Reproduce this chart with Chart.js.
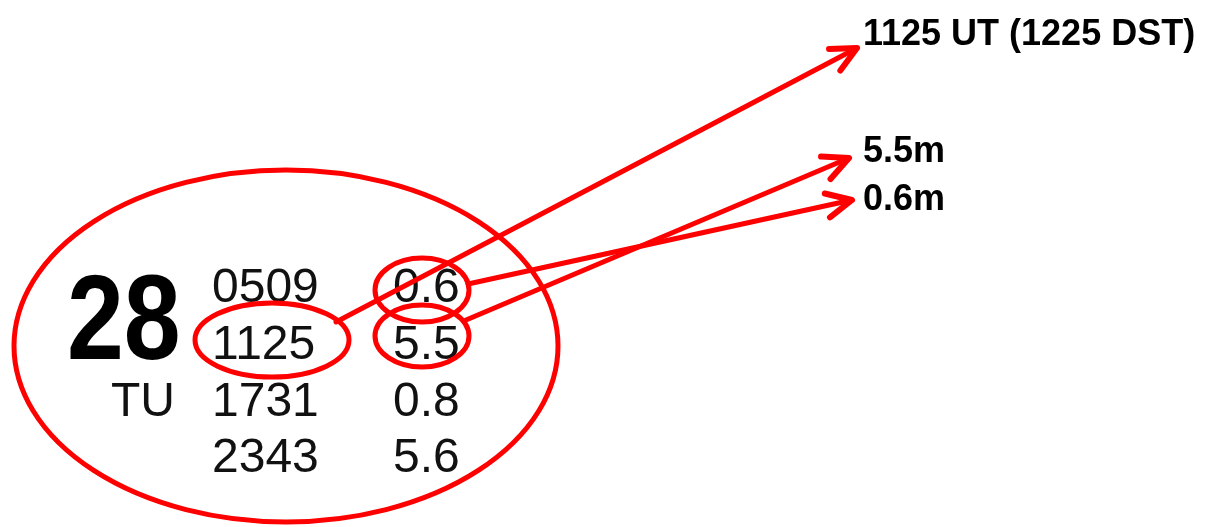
<!DOCTYPE html>
<html>
<head>
<meta charset="utf-8">
<script src="https://cdn.jsdelivr.net/npm/chart.js@4/dist/chart.umd.min.js"></script>
<style>
  html, body { margin: 0; padding: 0; background: #fff; }
  #wrap { width: 1220px; height: 527px; }
</style>
</head>
<body>
<div id="wrap"><canvas id="myChart" width="1220" height="527"></canvas></div>
<script>
// tide table entry for one day
const day = '28';
const weekday = 'TU';
const times = ['0509', '1125', '1731', '2343'];
const heights = [0.6, 5.5, 0.8, 5.6];
const dstTime = '1225';

// which rows get called out
const timeRow = 1;
const heightRows = [1, 0];

const labels = [
  times[timeRow] + ' UT (' + dstTime + ' DST)',
  heights[heightRows[0]].toFixed(1) + 'm',
  heights[heightRows[1]].toFixed(1) + 'm',
];

// layout, in page units (x 0..1220, y 0..527 from the top)
const firstRow = 302;
const rowGap = 56.8;
const timeX = 212;
const heightX = 393;
const red = '#ff0000';

function rowY(i) {
  return firstRow + i * rowGap;
}

// arrows: start at the small ellipse, end next to the label
const arrows = [
  { from: { x: 336, y: 322 }, to: { x: 857, y: 48 } },
  { from: { x: 466, y: 320 }, to: { x: 849, y: 158 } },
  { from: { x: 468, y: 284 }, to: { x: 852, y: 200 } },
];

const labelPos = [
  { x: 863, y: 45 },
  { x: 863, y: 162 },
  { x: 863, y: 210 },
];

const tidePlugin = {
  id: 'tide',
  beforeDatasetsDraw(chart) {
    const ctx = chart.ctx;
    const sx = chart.scales.x;
    const sy = chart.scales.y;
    ctx.save();
    ctx.fillStyle = '#111';
    ctx.textBaseline = 'alphabetic';

    // table text, placed on the scatter points
    ctx.font = '48px "Liberation Sans", Arial, sans-serif';
    chart.getDatasetMeta(0).data.forEach((p, i) => {
      ctx.fillText(times[i], p.x, p.y);
    });
    chart.getDatasetMeta(1).data.forEach((p, i) => {
      ctx.fillText(heights[i].toFixed(1), p.x, p.y);
    });

    // weekday, right aligned on row 2
    ctx.textAlign = 'right';
    ctx.fillText(weekday, sx.getPixelForValue(175), sy.getPixelForValue(rowY(2)));

    // big condensed day number
    ctx.textAlign = 'left';
    ctx.fillStyle = '#000';
    ctx.font = 'bold 121px "Liberation Sans", Arial, sans-serif';
    ctx.save();
    ctx.translate(sx.getPixelForValue(67), sy.getPixelForValue(rowY(1)));
    ctx.scale(0.845, 1);
    ctx.fillText(day, 0, 0);
    ctx.restore();

    // callout labels
    ctx.font = 'bold 36px "Liberation Sans", Arial, sans-serif';
    labels.forEach((t, i) => {
      ctx.fillText(t, sx.getPixelForValue(labelPos[i].x), sy.getPixelForValue(labelPos[i].y));
    });
    ctx.restore();
  },
  afterDatasetsDraw(chart) {
    const ctx = chart.ctx;
    const sx = chart.scales.x;
    const sy = chart.scales.y;
    ctx.save();
    ctx.strokeStyle = red;
    ctx.lineWidth = 5;
    ctx.lineCap = 'round';
    ctx.lineJoin = 'round';

    function ellipse(cx, cy, rx, ry) {
      const px = sx.getPixelForValue(cx);
      const py = sy.getPixelForValue(cy);
      const w = Math.abs(sx.getPixelForValue(cx + rx) - px);
      const h = Math.abs(sy.getPixelForValue(cy + ry) - py);
      ctx.beginPath();
      ctx.ellipse(px, py, w, h, 0, 0, Math.PI * 2);
      ctx.stroke();
    }

    // whole day
    ellipse(286, 346, 272, 176);
    // time and the two heights
    ellipse(272, 340, 77, 37);
    ellipse(422, 290, 47, 32);
    ellipse(422, 336, 47, 31);

    // open arrow heads
    ctx.lineWidth = 6;
    arrows.forEach(a => {
      const tx = sx.getPixelForValue(a.to.x);
      const ty = sy.getPixelForValue(a.to.y);
      const fx = sx.getPixelForValue(a.from.x);
      const fy = sy.getPixelForValue(a.from.y);
      const ang = Math.atan2(fy - ty, fx - tx);
      const len = 28;
      const spread = 0.45;
      ctx.beginPath();
      ctx.moveTo(tx + len * Math.cos(ang - spread), ty + len * Math.sin(ang - spread));
      ctx.lineTo(tx, ty);
      ctx.lineTo(tx + len * Math.cos(ang + spread), ty + len * Math.sin(ang + spread));
      ctx.stroke();
    });
    ctx.restore();
  }
};

const datasets = [
  {
    label: 'times',
    data: times.map((t, i) => ({ x: timeX, y: rowY(i) })),
    pointRadius: 0,
    showLine: false,
  },
  {
    label: 'heights',
    data: heights.map((h, i) => ({ x: heightX, y: rowY(i) })),
    pointRadius: 0,
    showLine: false,
  },
];

arrows.forEach((a, i) => {
  datasets.push({
    label: 'arrow ' + i,
    data: [a.from, a.to],
    showLine: true,
    borderColor: red,
    borderWidth: 5,
    borderCapStyle: 'round',
    pointRadius: 0,
    fill: false,
  });
});

const config = {
  type: 'scatter',
  data: { datasets: datasets },
  options: {
    responsive: false,
    animation: false,
    devicePixelRatio: 1,
    layout: { padding: 0 },
    plugins: {
      legend: { display: false },
      tooltip: { enabled: false },
    },
    scales: {
      x: { type: 'linear', min: 0, max: 1220, display: false },
      y: { type: 'linear', min: 0, max: 527, reverse: true, display: false },
    },
  },
  plugins: [tidePlugin],
};

const myChart = new Chart(document.getElementById('myChart'), config);
</script>
</body>
</html>
